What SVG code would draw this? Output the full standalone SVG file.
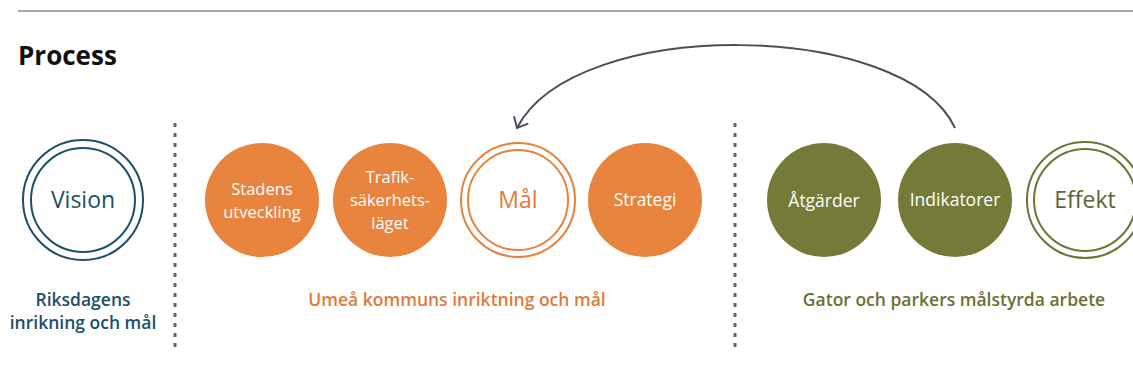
<svg xmlns="http://www.w3.org/2000/svg" width="1133" height="378" viewBox="0 0 1133 378">
<defs>
<style>
text{font-family:"Open Sans","Noto Sans","Liberation Sans",sans-serif;text-anchor:middle}
.title{font-size:26px;font-weight:700;fill:#111;text-anchor:start}
.node{font-size:17.5px;font-weight:500;fill:#fff}
.ml{font-size:16.5px}
.big{font-size:23px}
.lbl{font-size:17.5px;font-weight:600}
.teal{stroke:#1d4f69;fill:none;stroke-width:2}
.orng{stroke:#e5823e;fill:none;stroke-width:2}
.grn{stroke:#6f7433;fill:none;stroke-width:2}
.dots{stroke:#666;stroke-width:3;stroke-dasharray:4 6;fill:none}
</style>
<marker id="arr" viewBox="0 0 20 20" refX="10" refY="10" markerWidth="20" markerHeight="20" markerUnits="userSpaceOnUse" orient="auto">
<path d="M1,2 L10,10 L1,18" fill="none" stroke="#4a4e56" stroke-width="2"/>
</marker>
</defs>
<rect width="1133" height="378" fill="#fff"/>
<line x1="18" y1="11" x2="1133" y2="11" stroke="#8a8a8a" stroke-width="1.5"/>
<text class="title" x="18" y="65">Process</text>
<g id="dividers">
<line class="dots" x1="175" y1="123" x2="175" y2="352"/>
<line class="dots" x1="735" y1="123" x2="735" y2="352"/>
</g>
<g id="vision">
<circle class="teal" cx="83" cy="200" r="60"/>
<circle class="teal" cx="83" cy="200" r="52"/>
<text class="big" x="83" y="208" fill="#1d4f69">Vision</text>
</g>
<g id="stadens">
<circle cx="262" cy="200" r="57" fill="#e8843e"/>
<text class="node ml" x="262" y="195">Stadens</text>
<text class="node ml" x="262" y="218">utveckling</text>
</g>
<g id="trafik">
<circle cx="390" cy="200" r="57" fill="#e8843e"/>
<text class="node ml" x="390" y="183">Trafik-</text>
<text class="node ml" x="390" y="206">säkerhets-</text>
<text class="node ml" x="390" y="229">läget</text>
</g>
<g id="mal">
<circle class="orng" cx="518" cy="200" r="57"/>
<circle class="orng" cx="518" cy="200" r="50"/>
<text class="big" x="518" y="208" fill="#e07a3a">Mål</text>
</g>
<g id="strategi">
<circle cx="645" cy="200" r="57" fill="#e8843e"/>
<text class="node" x="645" y="206">Strategi</text>
</g>
<g id="atgarder">
<circle cx="824" cy="200" r="57" fill="#767a38"/>
<text class="node" x="824" y="207">Åtgärder</text>
</g>
<g id="indikatorer">
<circle cx="955" cy="200" r="57" fill="#767a38"/>
<text class="node" x="955" y="206">Indikatorer</text>
</g>
<g id="effekt">
<circle class="grn" cx="1085" cy="200" r="58"/>
<circle class="grn" cx="1085" cy="200" r="51"/>
<text class="big" x="1085" y="208" fill="#5f6330">Effekt</text>
</g>
<g id="connectors">
<path d="M955,128 C905,20 575,15 517,128" fill="none" stroke="#4a4e56" stroke-width="2" marker-end="url(#arr)"/>
</g>
<g id="labels">
<text class="lbl" x="83" y="306" fill="#1d4f69">Riksdagens</text>
<text class="lbl" x="83" y="329" fill="#1d4f69">inrikning och mål</text>
<text class="lbl" x="457" y="306" fill="#e07a3a">Umeå kommuns inriktning och mål</text>
<text class="lbl" x="954" y="306" fill="#6b6f33">Gator och parkers målstyrda arbete</text>
</g>
</svg>
